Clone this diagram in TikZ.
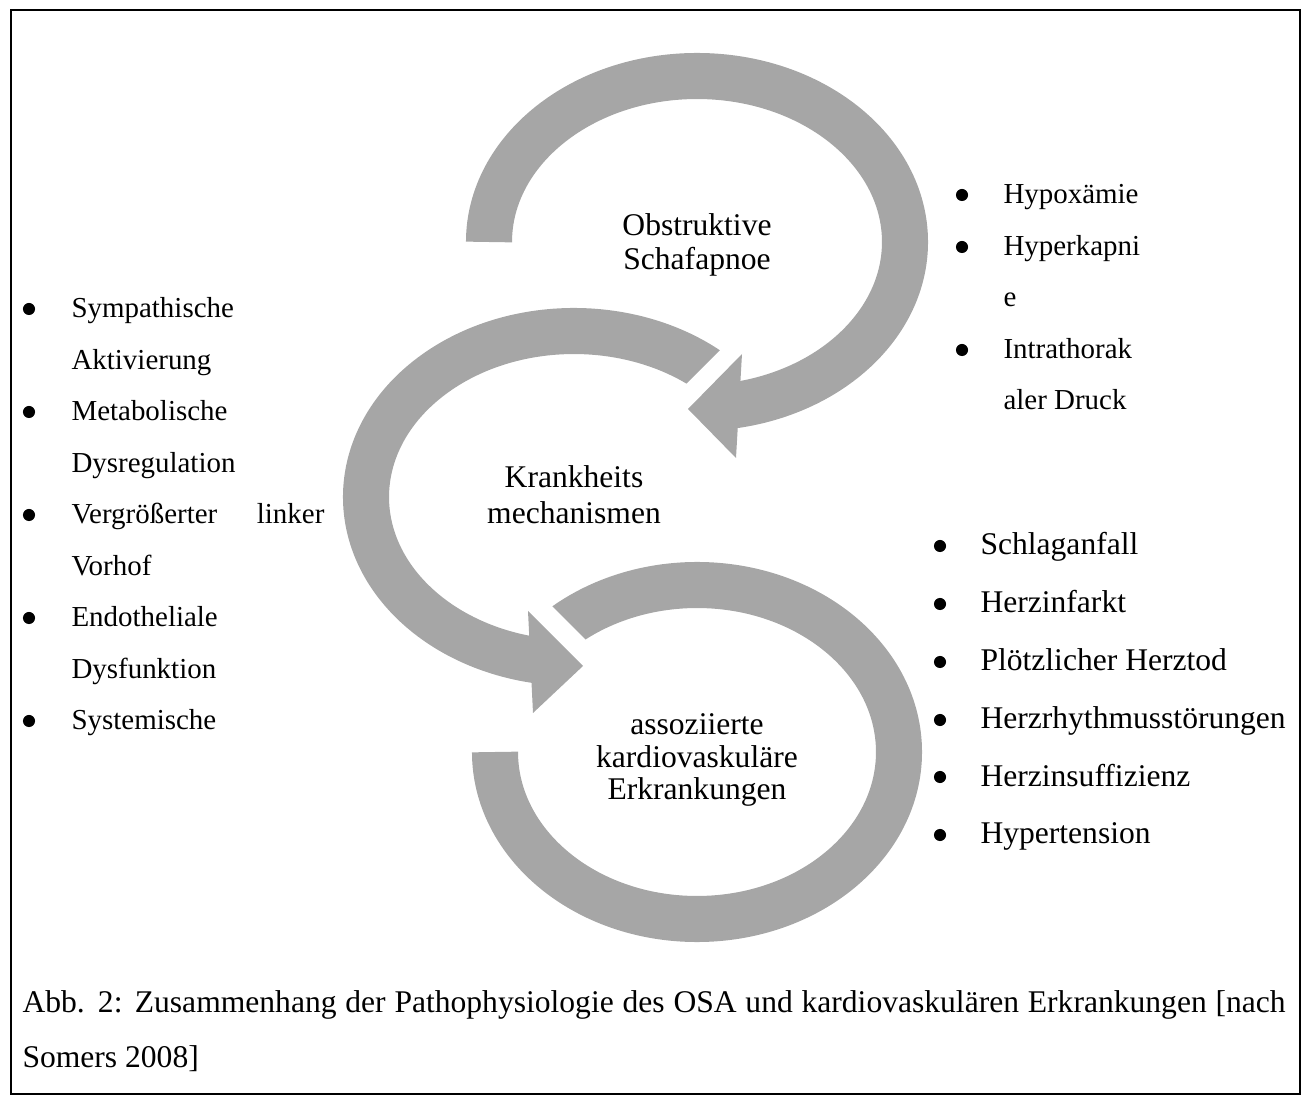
\documentclass[tikz,border=0pt]{standalone}
\usepackage{fontspec}
\setmainfont{Liberation Serif}
\definecolor{ringgray}{RGB}{166,166,166}
\tikzset{
  band/.style={draw=ringgray, line width=17.5pt},
  head/.style={fill=ringgray},
  lbl/.style={align=center, inner sep=0pt},
  item/.style={anchor=base west, inner sep=0pt, font=\fontsize{12}{14}\selectfont},
  smallitem/.style={anchor=base west, inner sep=0pt, font=\fontsize{11}{13}\selectfont},
  dot/.style={circle, fill, inner sep=0pt, minimum size=4.6pt},
}

\begin{document}
\begin{tikzpicture}[x=0.38pt, y=0.38pt]
\useasboundingbox (0,0) rectangle (1310,1098);
\draw[line width=0.76pt] (11,4) rectangle (1300,1088);

% ring centres
\coordinate (c1) at (697,856);
\coordinate (c2) at (574,601);
\coordinate (c3) at (697,346);

% circular arrows
\draw[band] (c1) ++(180:208 and 166)
    arc[start angle=180, end angle=-81, x radius=208, y radius=166];
\fill[head] (742,744) -- (688,689) -- (736,640) -- cycle;
\begin{scope}[even odd rule]
  % slanted cut at the start of the middle ring
  \clip (0,0) rectangle (1310,1098)
    (640,640) -- (820,640) -- (820,820) -- (792,820) -- (640,668) -- cycle;
  \draw[band] (c2) ++(42:208 and 166)
      arc[start angle=42, end angle=261, x radius=208, y radius=166];
\end{scope}
\fill[head] (528,487) -- (583,432) -- (533,385) -- cycle;
\begin{scope}[even odd rule]
  % slanted cut at the end of the lower ring
  \clip (0,0) rectangle (1310,1098)
    (480,420) -- (624,420) -- (480,564) -- cycle;
  \draw[band] (c3) ++(180:202 and 167)
      arc[start angle=180, end angle=498, x radius=202, y radius=167];
\end{scope}

% labels in the rings
\node[lbl, font=\fontsize{12}{12.9}\selectfont] (osa) at (697,853) {Obstruktive\\Schafapnoe};
\node[lbl, font=\fontsize{12}{13.7}\selectfont] (mech) at (574,603) {Krankheits\\mechanismen};
\node[lbl, font=\fontsize{12}{12.5}\selectfont] (cvd) at (697,338) {assoziierte\\kardiovaskuläre\\Erkrankungen};

% upper right list
\node[dot] (b1) at (962,903) {};
\node[dot] (b2) at (962,851) {};
\node[dot] (b3) at (962,748) {};
\node[smallitem] (hypox) at (1003,894) {Hypoxämie};
\node[smallitem] (hyperk) at (1003,842) {Hyperkapni};
\node[smallitem] (hyperke) at (1003,791) {e};
\node[smallitem] (intra) at (1003,739) {Intrathorak};
\node[smallitem] (intrab) at (1003,688) {aler Druck};

% left list
\node[dot] (l1) at (29,789) {};
\node[dot] (l2) at (29,686) {};
\node[dot] (l3) at (29,583) {};
\node[dot] (l4) at (29,480) {};
\node[dot] (l5) at (29,377) {};
\node[smallitem] (symp) at (71,780) {Sympathische};
\node[smallitem] (sympb) at (71,728.5) {Aktivierung};
\node[smallitem] (meta) at (71,677) {Metabolische};
\node[smallitem] (metab) at (71,625.5) {Dysregulation};
\node[smallitem] (vorh) at (71,574) {\hbox to 96.1pt{Vergrößerter\hfill linker}};
\node[smallitem] (vorhb) at (71,522.5) {Vorhof};
\node[smallitem] (endo) at (71,471) {Endotheliale};
\node[smallitem] (endob) at (71,419.5) {Dysfunktion};
\node[smallitem] (syst) at (71,368) {Systemische};

% lower right list
\node[dot] (r1) at (940,552) {};
\node[dot] (r2) at (940,494) {};
\node[dot] (r3) at (940,436) {};
\node[dot] (r4) at (940,378) {};
\node[dot] (r5) at (940,321) {};
\node[dot] (r6) at (940,263) {};
\node[item] (stroke) at (980,543) {Schlaganfall};
\node[item] (infarct) at (980,485) {Herzinfarkt};
\node[item] (scd) at (980,427) {Plötzlicher Herztod};
\node[item] (arrhy) at (980,369) {Herzrhythmusstörungen};
\node[item] (hf) at (980,312) {Herzinsuffizienz};
\node[item] (htn) at (980,254) {Hypertension};

% caption
\node[item] (capa) at (22,86) {\hbox to 480pt{Abb. 2: Zusammenhang der Pathophysiologie des OSA und kardiovaskulären Erkrankungen [nach}};
\node[item] (capb) at (22,31) {Somers 2008]};
\end{tikzpicture}
\end{document}
